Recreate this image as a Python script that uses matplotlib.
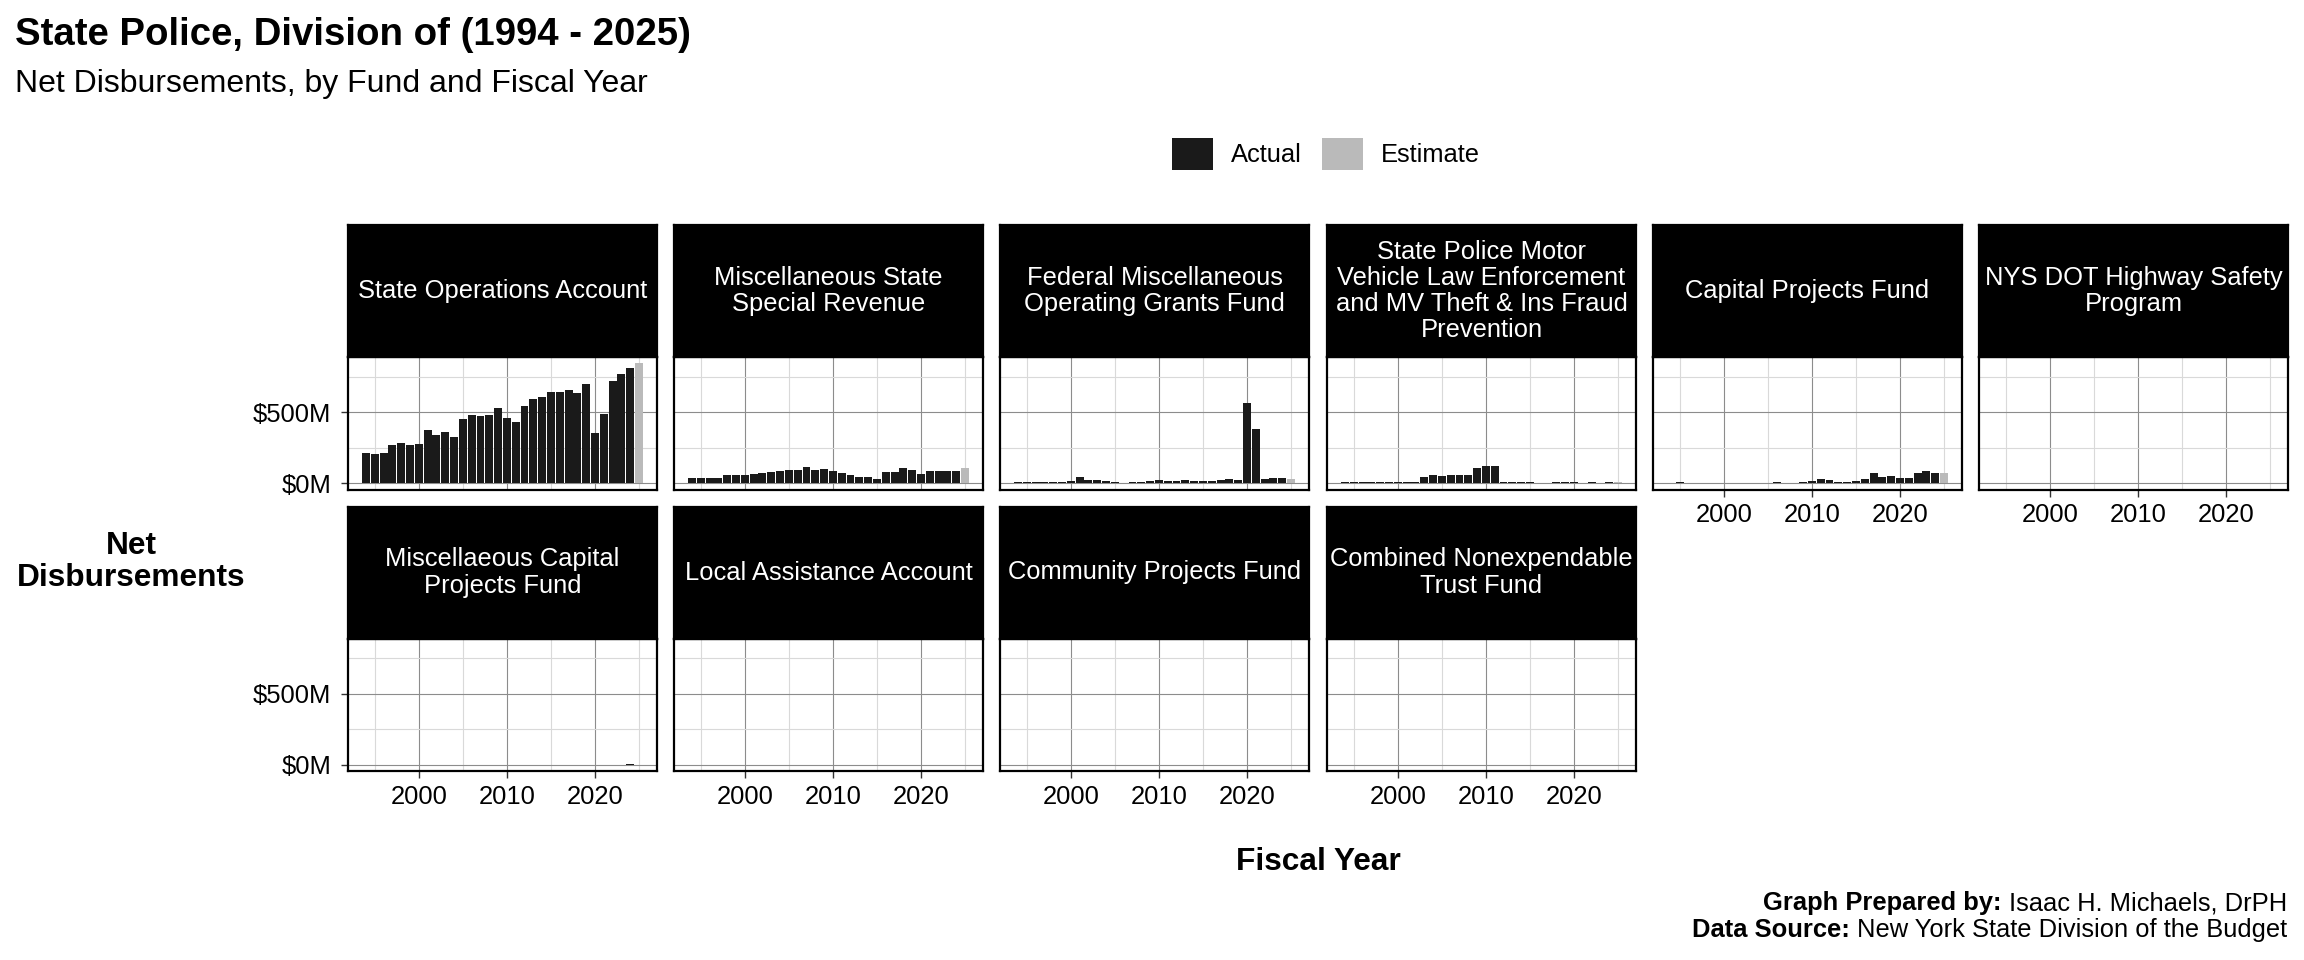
import matplotlib
matplotlib.use("Agg")
import matplotlib.pyplot as plt
from matplotlib.patches import Patch
from matplotlib.ticker import FixedLocator, FuncFormatter

plt.rcParams["font.family"] = ["Liberation Sans", "DejaVu Sans"]

# fiscal years shown on every panel; the last one is the budget estimate
years = list(range(1994, 2026))
estimate_year = 2025

fund_names = [
    "State Operations Account",
    "Miscellaneous State\nSpecial Revenue",
    "Federal Miscellaneous\nOperating Grants Fund",
    "State Police Motor\nVehicle Law Enforcement\nand MV Theft & Ins Fraud\nPrevention",
    "Capital Projects Fund",
    "NYS DOT Highway Safety\nProgram",
    "Miscellaeous Capital\nProjects Fund",
    "Local Assistance Account",
    "Community Projects Fund",
    "Combined Nonexpendable\nTrust Fund",
]

# net disbursements, $ millions, 1994..2025 (None = no spending that year)
state_operations = [217, 210, 217, 272, 286, 272, 279, 376, 341, 362, 327, 452,
                    479, 472, 479, 528, 459, 431, 541, 590, 604, 645, 645, 659,
                    638, 696, 355, 486, 721, 770, 811, 846]
misc_special_revenue = [37, 37, 37, 37, 58, 58, 58, 65, 71, 78, 85, 92,
                        92, 113, 92, 99, 85, 71, 58, 44, 44, 30, 78, 78,
                        106, 92, 65, 85, 85, 85, 85, 106]
federal_misc_grants = [9, 9, 9, 9, 9, 9, 16, 44, 23, 23, 16, 9,
                       4, 9, 9, 16, 23, 16, 16, 23, 16, 16, 16, 23,
                       30, 23, 562, 382, 30, 37, 37, 30]
motor_vehicle_enforcement = [9, 9, 9, 9, 9, 9, 9, 9, 9, 44, 58, 51,
                             58, 58, 58, 106, 120, 120, 9, 9, 9, 9, 5, 5,
                             9, 9, 9, 5, 9, 5, 9, 9]
capital_projects = [5, 9, 5, 5, 5, 5, 5, 5, 5, 5, 5, 5,
                    9, 5, 5, 9, 16, 30, 23, 9, 9, 16, 30, 71,
                    44, 51, 37, 37, 71, 85, 71, 71]
dot_highway_safety = [None, None, None, 5, 5, 5, 5, 5, 5, 5, 5, 5,
                      5, 5, 5, 5, 5, 5, 5, 5, 5, 5, 5, 5,
                      5, 5, 5, 5, 5, 5, 5, None]
misc_capital_projects = [None, None, None, None, None, None, None, None, None, None, None, None,
                         None, None, None, None, None, None, None, None, None, None, None, None,
                         None, None, None, None, None, 3, 6, None]
local_assistance = [None, None, None, 1.5, None, None, None, None, None, None, None, None,
                    None, None, None, None, None, None, None, None, None, None, None, None,
                    None, None, None, None, None, None, None, None]
community_projects = [None, None, None, None, None, 1.5, None, None, None, None, None, None,
                      None, None, None, None, None, None, None, None, None, None, None, None,
                      None, None, None, None, None, None, None, None]
nonexpendable_trust = [None, None, None, None, None, None, None, None, None, None, 0, 0,
                       0, None, None, None, None, None, None, None, None, None, None, None,
                       None, None, None, None, None, None, None, None]

fund_values = [state_operations, misc_special_revenue, federal_misc_grants,
               motor_vehicle_enforcement, capital_projects, dot_highway_safety,
               misc_capital_projects, local_assistance, community_projects,
               nonexpendable_trust]

ACTUAL = "#1a1a1a"
ESTIMATE = "#bababa"

W, H, DPI = 2304, 960, 200
BASE = 9.2


def fx(px):
    return px / W


def fy(py):
    return 1 - py / H


fig = plt.figure(figsize=(W / DPI, H / DPI), dpi=DPI)

all_values = [v for series in fund_values for v in series if v is not None]
ymax = max(all_values)
ymin = min(0, min(all_values))
yspan = ymax - ymin
xlo, xhi = years[0] - 0.45, years[-1] + 0.45
xspan = xhi - xlo

col_left = [348, 674, 1000, 1327, 1653, 1979]
panel_w = 309
strip_h = 132
panel_h = 132.5
row_top = [357, 638.5]

n = len(fund_names)
for i, (name, series) in enumerate(zip(fund_names, fund_values)):
    row, col = divmod(i, 6)
    left = col_left[col]
    top = row_top[row]

    ax = fig.add_axes([fx(left), fy(top + panel_h), panel_w / W, panel_h / H])
    xs = [yr for yr, v in zip(years, series) if v is not None]
    hs = [v for v in series if v is not None]
    colors = [ESTIMATE if yr == estimate_year else ACTUAL for yr in xs]
    ax.bar(xs, hs, width=0.9, color=colors, linewidth=0, zorder=2)

    ax.set_xlim(xlo - 0.05 * xspan, xhi + 0.05 * xspan)
    ax.set_ylim(ymin - 0.05 * yspan, ymax + 0.05 * yspan)
    ax.xaxis.set_major_locator(FixedLocator([2000, 2010, 2020]))
    ax.xaxis.set_minor_locator(FixedLocator([1995, 2005, 2015, 2025]))
    ax.yaxis.set_major_locator(FixedLocator([0, 500]))
    ax.yaxis.set_minor_locator(FixedLocator([250, 750]))
    ax.yaxis.set_major_formatter(FuncFormatter(lambda v, _: f"${v:.0f}M"))

    ax.set_axisbelow(True)
    ax.grid(which="major", color="#8c8c8c", linewidth=0.4, zorder=0)
    ax.grid(which="minor", color="#d9d9d9", linewidth=0.4, zorder=0)
    for spine in ax.spines.values():
        spine.set_color("black")
        spine.set_linewidth(0.8)
        spine.set_zorder(3)

    show_x = i + 6 >= n
    show_y = col == 0
    ax.tick_params(which="minor", length=0)
    ax.tick_params(axis="x", which="major", length=2.5, width=0.5, color="#333333",
                   pad=2.5, labelsize=BASE, bottom=show_x, labelbottom=show_x)
    ax.tick_params(axis="y", which="major", length=2.5, width=0.5, color="#333333",
                   pad=3.5, labelsize=BASE, left=show_y, labelleft=show_y)

    strip = fig.add_axes([fx(left), fy(top), panel_w / W, strip_h / H])
    strip.set_facecolor("black")
    strip.set_xticks([])
    strip.set_yticks([])
    for spine in strip.spines.values():
        spine.set_color("black")
        spine.set_linewidth(0.8)
    strip.text(0.5, 0.5, name, color="white", fontsize=BASE, ha="center",
               va="center", linespacing=1.12, transform=strip.transAxes)

fig.text(fx(15), fy(35), "State Police, Division of (1994 - 2025)",
         fontsize=13.8, fontweight="bold", ha="left", va="center")
fig.text(fx(15), fy(84), "Net Disbursements, by Fund and Fiscal Year",
         fontsize=11.5, ha="left", va="center")

fig.text(fx(131), fy(562), "Net\nDisbursements", fontsize=11.4,
         fontweight="bold", ha="center", va="center", linespacing=1.05)
fig.text(fx(1318), fy(862), "Fiscal Year", fontsize=11.4,
         fontweight="bold", ha="center", va="center")

fig.legend(handles=[Patch(facecolor=ACTUAL, edgecolor="none", label="Actual"),
                    Patch(facecolor=ESTIMATE, edgecolor="none", label="Estimate")],
           loc="center", bbox_to_anchor=(fx(1326), fy(154)), ncol=2,
           frameon=False, fontsize=BASE, handlelength=1.6, handleheight=1.6,
           handletextpad=0.7, columnspacing=0.8, borderpad=0)

renderer = fig.canvas.get_renderer()
caption = [("Graph Prepared by:", "Isaac H. Michaels, DrPH", 903),
           ("Data Source:", "New York State Division of the Budget", 930)]
for bold, regular, ypix in caption:
    t = fig.text(fx(2287), fy(ypix), regular, fontsize=BASE, ha="right", va="center")
    bb = t.get_window_extent(renderer)
    fig.text((bb.x0 - 7) / W, fy(ypix), bold, fontsize=BASE, fontweight="bold",
             ha="right", va="center")

fig.savefig("out.png", dpi=DPI)
